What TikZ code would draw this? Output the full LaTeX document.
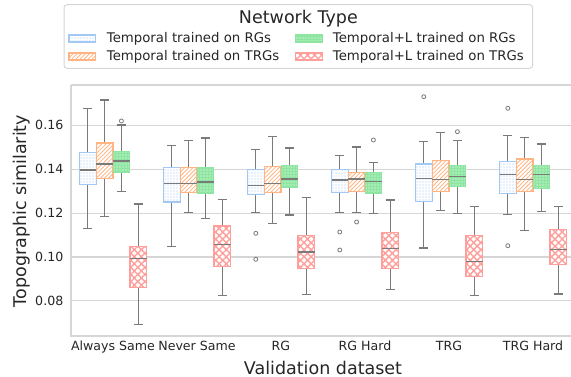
\documentclass[tikz,border=0pt]{standalone}
\usepackage{fontspec}
\setmainfont{DejaVu Sans}
\usetikzlibrary{patterns.meta}
\definecolor{pblue}{HTML}{A1C9F4}
\definecolor{porange}{HTML}{FFB482}
\definecolor{pgreen}{HTML}{8DE5A1}
\definecolor{ppink}{HTML}{FF9F9B}
\definecolor{txt}{HTML}{262626}
\definecolor{gridc}{HTML}{D6D6D6}
\definecolor{wline}{HTML}{7A7A7A}

\tikzset{
  gridline/.style={draw=gridc, line width=1.1pt},
  whisk/.style={draw=wline, line width=1.3pt},
  outl/.style={draw=wline, line width=0.8pt},
  bxblue/.style={fill=white,
    postaction={pattern={Dots[distance=3pt,radius=0.7pt]}, pattern color=pblue},
    postaction={draw=pblue, line width=1.2pt}},
  bxorange/.style={fill=white,
    postaction={pattern={Lines[angle=45,distance=2.9pt,line width=0.8pt]}, pattern color=porange},
    postaction={draw=porange, line width=1.2pt}},
  bxgreen/.style={fill=pgreen,
    postaction={pattern={Dots[distance=3pt,radius=0.55pt]}, pattern color=white},
    postaction={draw=pgreen, line width=1.2pt}},
  bxpink/.style={fill=white,
    postaction={pattern={Hatch[angle=45,distance=5pt,line width=1.4pt]}, pattern color=ppink},
    postaction={draw=ppink, line width=1.2pt}},
  ticklab/.style={text=txt, font=\fontsize{12.6}{15}\selectfont, inner sep=0pt},
  axlab/.style={text=txt, font=\fontsize{17.5}{21}\selectfont, inner sep=0pt},
  leglab/.style={text=txt, font=\fontsize{13.3}{16}\selectfont, inner sep=0pt, anchor=base west},
}

% one box: x, style, upper whisker, box top, median, box bottom, lower whisker
\newcommand\bplot[7]{%
  \draw[whisk] (#1,#3) -- (#1,#4) (#1,#6) -- (#1,#7);
  \draw[whisk] (#1-4.5,#3) -- (#1+4.5,#3) (#1-4.5,#7) -- (#1+4.5,#7);
  \path[#2] (#1-8.3,#4) rectangle (#1+8.3,#6);
  \draw[whisk] (#1-8.3,#5) -- (#1+8.3,#5);
}
\newcommand\flier[2]{\draw[outl] (#1,#2) circle[radius=2];}

\begin{document}
\begin{tikzpicture}[x=1pt,y=-1pt]
\useasboundingbox (0,0) rectangle (571,377);

% axes frame and grid
\draw[gridline] (71,85) -- (571,85);
\foreach \yy in {125.3,169.2,213.1,257.0,300.9}
  \draw[gridline] (71,\yy) -- (571,\yy);
\draw[gridline] (71,85) -- (71,336) -- (571,336);

% y tick labels
\node[ticklab, anchor=east] (y16) at (63.5,125.3) {0.16};
\node[ticklab, anchor=east] (y14) at (63.5,169.2) {0.14};
\node[ticklab, anchor=east] (y12) at (63.5,213.1) {0.12};
\node[ticklab, anchor=east] (y10) at (63.5,257.0) {0.10};
\node[ticklab, anchor=east] (y08) at (63.5,300.9) {0.08};

% x tick labels
\node[ticklab, anchor=base] (x1) at (113,350.5) {Always Same};
\node[ticklab, anchor=base] (x2) at (197,350.5) {Never Same};
\node[ticklab, anchor=base] (x3) at (281,350.5) {RG};
\node[ticklab, anchor=base] (x4) at (365,350.5) {RG Hard};
\node[ticklab, anchor=base] (x5) at (449,350.5) {TRG};
\node[ticklab, anchor=base] (x6) at (533,350.5) {TRG Hard};

% axis titles
\node[axlab, anchor=base] (xlabel) at (323,374) {Validation dataset};
\node[axlab, rotate=90, anchor=center] (ylabel) at (22,211) {Topographic similarity};

% Always Same
\bplot{87.8}{bxblue}{108.3}{152.7}{170}{184.3}{228.3}
\bplot{104.6}{bxorange}{100}{143}{164}{178.7}{216.3}
\bplot{121.4}{bxgreen}{125}{151.3}{161}{172.3}{191.7}
\flier{121.4}{121}
\bplot{138.2}{bxpink}{204}{246.7}{258.3}{287.3}{324.7}
% Never Same
\bplot{171.8}{bxblue}{145.7}{167.7}{183.3}{202}{246.7}
\bplot{188.6}{bxorange}{140.3}{167.7}{183.7}{192.7}{212.7}
\bplot{205.4}{bxgreen}{138}{167.7}{182}{193.3}{218.3}
\bplot{222.2}{bxpink}{199.7}{226}{244.3}{266.3}{295.3}
% RG
\bplot{255.8}{bxblue}{149.3}{169.3}{185.3}{194.7}{212.3}
\flier{255.8}{233.3}\flier{255.8}{259.3}
\bplot{272.6}{bxorange}{136.7}{166.7}{183.7}{192.3}{223.3}
\bplot{289.4}{bxgreen}{148}{165.3}{179}{187}{215}
\bplot{306.2}{bxpink}{197.3}{235.7}{252}{268.7}{294.3}
% RG Hard
\bplot{339.8}{bxblue}{155.7}{169.3}{180}{192.3}{212.7}
\flier{339.8}{232}\flier{339.8}{250}
\bplot{356.6}{bxorange}{147}{172.3}{179}{191.3}{212.3}
\flier{356.6}{222}
\bplot{373.4}{bxgreen}{162.3}{172.3}{181.3}{193.3}{213.3}
\flier{373.4}{140}
\bplot{390.2}{bxpink}{200}{232.3}{248.3}{268.3}{289.7}
% TRG
\bplot{423.8}{bxblue}{141.7}{164}{178.3}{201.3}{248}
\flier{423.8}{96.7}
\bplot{440.6}{bxorange}{132.3}{160.7}{179.3}{191.3}{210.3}
\bplot{457.4}{bxgreen}{140.7}{165.3}{176.3}{186.7}{213.3}
\flier{457.4}{131.7}
\bplot{474.2}{bxpink}{206.7}{235.7}{261.7}{276.3}{295.3}
% TRG Hard
\bplot{507.8}{bxblue}{135.7}{161.3}{174.7}{193.3}{214.3}
\flier{507.8}{108.3}\flier{507.8}{245.7}
\bplot{524.6}{bxorange}{137.7}{159}{179.3}{191.7}{230.7}
\bplot{541.4}{bxgreen}{144}{165.3}{174.7}{188.3}{211.7}
\bplot{558.2}{bxpink}{206.3}{229.7}{249.3}{264.3}{294}

% legend
\draw[draw=gridc, line width=1pt, fill=white, fill opacity=0.85, rounded corners=3pt]
  (64,4.7) rectangle (532.7,68.3);
\node[axlab, anchor=base] (legtitle) at (298.4,23.5) {Network Type};
\path[bxblue]   (69,35) rectangle (95.7,42);
\path[bxorange] (69,53) rectangle (95.7,60);
\path[bxgreen]  (295.5,35) rectangle (322.5,42);
\path[bxpink]   (295.5,53) rectangle (322.5,60);
\node[leglab] (leg1) at (106.7,42.7) {Temporal trained on RGs};
\node[leglab] (leg2) at (106.7,60.3) {Temporal trained on TRGs};
\node[leglab] (leg3) at (332.7,42.7) {Temporal+L trained on RGs};
\node[leglab] (leg4) at (332.7,60.3) {Temporal+L trained on TRGs};
\end{tikzpicture}
\end{document}
